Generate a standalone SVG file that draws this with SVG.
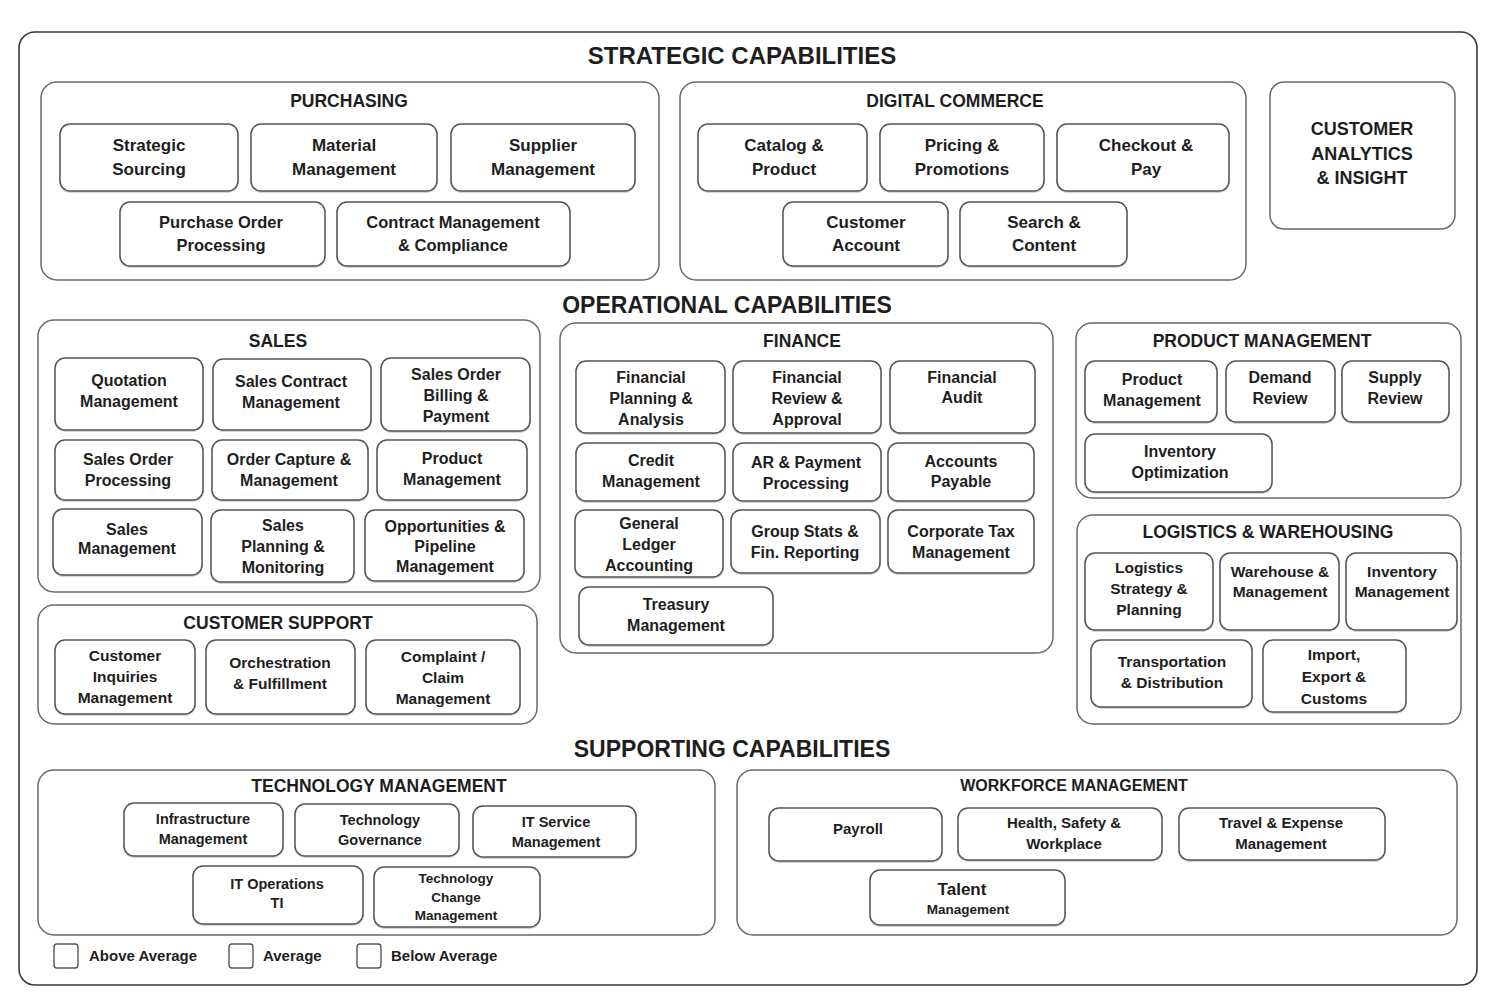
<svg xmlns="http://www.w3.org/2000/svg" width="1498" height="1008" viewBox="0 0 1498 1008">
<defs>
<filter id="sh" x="-5%" y="-5%" width="110%" height="120%"><feDropShadow dx="0" dy="1" stdDeviation="0.7" flood-color="#000" flood-opacity="0.22"/></filter>
</defs>
<style>
.frame{fill:#fff;stroke:#3a3a3a;stroke-width:1.6}
.sec{fill:#fff;stroke:#6a6a6a;stroke-width:1.5}
.node{fill:#fff;stroke:#555;stroke-width:1.5;filter:url(#sh)}
.leg{fill:#fff;stroke:#555;stroke-width:1.4}
text{font-family:"Liberation Sans",Arial,sans-serif;font-weight:bold;fill:#1e1e1e;text-anchor:middle}
.title{font-size:23px}
.title1{font-size:24px}
.h{font-size:17.5px}
.h16{font-size:16px}
.t17{font-size:17px}
.t165{font-size:16.5px}
.t16{font-size:16px}
.t155{font-size:15.5px}
.t15{font-size:15px}
.t145{font-size:14.5px}
.t135{font-size:13.5px}
.t18{font-size:18px}
.lt{font-size:15px;text-anchor:start}
</style>
<rect width="1498" height="1008" fill="#fff"/>
<rect class="frame" x="19" y="32" width="1458" height="953" rx="16"/>
<text class="title1" x="742" y="64">STRATEGIC CAPABILITIES</text>
<text class="title" x="727" y="313">OPERATIONAL CAPABILITIES</text>
<text class="title" x="732" y="757">SUPPORTING CAPABILITIES</text>

<!-- PURCHASING -->
<g id="purchasing">
<rect class="sec" x="41" y="82" width="618" height="198" rx="16"/>
<text class="h" x="349" y="107">PURCHASING</text>
</g>
<g id="strategic-sourcing"><rect class="node" x="60" y="124" width="178" height="67" rx="10"/><text class="t17" x="149" y="151">Strategic<tspan x="149" y="175">Sourcing</tspan></text></g>
<g id="material-management"><rect class="node" x="251" y="124" width="186" height="67" rx="10"/><text class="t17" x="344" y="151">Material<tspan x="344" y="175">Management</tspan></text></g>
<g id="supplier-management"><rect class="node" x="451" y="124" width="184" height="67" rx="10"/><text class="t17" x="543" y="151">Supplier<tspan x="543" y="175">Management</tspan></text></g>
<g id="purchase-order-processing"><rect class="node" x="120" y="202" width="205" height="64" rx="10"/><text class="t165" x="221" y="228">Purchase Order<tspan x="221" y="251">Processing</tspan></text></g>
<g id="contract-management"><rect class="node" x="337" y="202" width="233" height="64" rx="10"/><text class="t165" x="453" y="228">Contract Management<tspan x="453" y="251">&amp; Compliance</tspan></text></g>

<!-- DIGITAL COMMERCE -->
<g id="digital-commerce">
<rect class="sec" x="680" y="82" width="566" height="198" rx="16"/>
<text class="h" x="955" y="107">DIGITAL COMMERCE</text>
</g>
<g id="catalog-product"><rect class="node" x="698" y="124" width="169" height="67" rx="10"/><text class="t17" x="784" y="151">Catalog &amp;<tspan x="784" y="175">Product</tspan></text></g>
<g id="pricing-promotions"><rect class="node" x="880" y="124" width="164" height="67" rx="10"/><text class="t17" x="962" y="151">Pricing &amp;<tspan x="962" y="175">Promotions</tspan></text></g>
<g id="checkout-pay"><rect class="node" x="1057" y="124" width="172" height="67" rx="10"/><text class="t17" x="1146" y="151">Checkout &amp;<tspan x="1146" y="175">Pay</tspan></text></g>
<g id="customer-account"><rect class="node" x="783" y="202" width="165" height="64" rx="10"/><text class="t17" x="866" y="228">Customer<tspan x="866" y="251">Account</tspan></text></g>
<g id="search-content"><rect class="node" x="960" y="202" width="167" height="64" rx="10"/><text class="t17" x="1044" y="228">Search &amp;<tspan x="1044" y="251">Content</tspan></text></g>

<!-- CUSTOMER ANALYTICS -->
<g id="customer-analytics"><rect class="sec" x="1270" y="82" width="185" height="147" rx="14"/><text class="t18" x="1362" y="135">CUSTOMER<tspan x="1362" y="160">ANALYTICS</tspan><tspan x="1362" y="184">&amp; INSIGHT</tspan></text></g>

<!-- SALES -->
<g id="sales">
<rect class="sec" x="38" y="320" width="502" height="272" rx="16"/>
<text class="h" x="278" y="347">SALES</text>
</g>
<g id="quotation-management"><rect class="node" x="55" y="358" width="148" height="72" rx="10"/><text class="t16" x="129" y="386">Quotation<tspan x="129" y="407">Management</tspan></text></g>
<g id="sales-contract-management"><rect class="node" x="213" y="359" width="158" height="71" rx="10"/><text class="t16" x="291" y="387">Sales Contract<tspan x="291" y="408">Management</tspan></text></g>
<g id="sales-order-billing"><rect class="node" x="381" y="358" width="149" height="73" rx="10"/><text class="t16" x="456" y="380">Sales Order<tspan x="456" y="401">Billing &amp;</tspan><tspan x="456" y="422">Payment</tspan></text></g>
<g id="sales-order-processing"><rect class="node" x="55" y="440" width="148" height="60" rx="10"/><text class="t16" x="128" y="465">Sales Order<tspan x="128" y="486">Processing</tspan></text></g>
<g id="order-capture"><rect class="node" x="212" y="440" width="156" height="60" rx="10"/><text class="t16" x="289" y="465">Order Capture &amp;<tspan x="289" y="486">Management</tspan></text></g>
<g id="sales-product-management"><rect class="node" x="377" y="440" width="150" height="60" rx="10"/><text class="t16" x="452" y="464">Product<tspan x="452" y="485">Management</tspan></text></g>
<g id="sales-management"><rect class="node" x="53" y="509" width="149" height="66" rx="10"/><text class="t16" x="127" y="535">Sales<tspan x="127" y="554">Management</tspan></text></g>
<g id="sales-planning"><rect class="node" x="211" y="510" width="143" height="72" rx="10"/><text class="t16" x="283" y="531">Sales<tspan x="283" y="552">Planning &amp;</tspan><tspan x="283" y="573">Monitoring</tspan></text></g>
<g id="opportunities-pipeline"><rect class="node" x="365" y="510" width="159" height="71" rx="10"/><text class="t16" x="445" y="532">Opportunities &amp;<tspan x="445" y="552">Pipeline</tspan><tspan x="445" y="572">Management</tspan></text></g>

<!-- CUSTOMER SUPPORT -->
<g id="customer-support">
<rect class="sec" x="38" y="605" width="499" height="119" rx="16"/>
<text class="h" x="278" y="629">CUSTOMER SUPPORT</text>
</g>
<g id="customer-inquiries"><rect class="node" x="55" y="640" width="140" height="74" rx="10"/><text class="t155" x="125" y="661">Customer<tspan x="125" y="682">Inquiries</tspan><tspan x="125" y="703">Management</tspan></text></g>
<g id="orchestration-fulfillment"><rect class="node" x="206" y="640" width="149" height="74" rx="10"/><text class="t155" x="280" y="668">Orchestration<tspan x="280" y="689">&amp; Fulfillment</tspan></text></g>
<g id="complaint-claim"><rect class="node" x="366" y="640" width="154" height="74" rx="10"/><text class="t155" x="443" y="662">Complaint /<tspan x="443" y="683">Claim</tspan><tspan x="443" y="704">Management</tspan></text></g>

<!-- FINANCE -->
<g id="finance">
<rect class="sec" x="560" y="323" width="493" height="330" rx="16"/>
<text class="h" x="802" y="347">FINANCE</text>
</g>
<g id="financial-planning"><rect class="node" x="576" y="361" width="149" height="72" rx="10"/><text class="t16" x="651" y="383">Financial<tspan x="651" y="404">Planning &amp;</tspan><tspan x="651" y="425">Analysis</tspan></text></g>
<g id="financial-review"><rect class="node" x="733" y="361" width="148" height="72" rx="10"/><text class="t16" x="807" y="383">Financial<tspan x="807" y="404">Review &amp;</tspan><tspan x="807" y="425">Approval</tspan></text></g>
<g id="financial-audit"><rect class="node" x="890" y="361" width="145" height="72" rx="10"/><text class="t16" x="962" y="383">Financial<tspan x="962" y="403">Audit</tspan></text></g>
<g id="credit-management"><rect class="node" x="576" y="443" width="149" height="58" rx="10"/><text class="t16" x="651" y="466">Credit<tspan x="651" y="487">Management</tspan></text></g>
<g id="ar-payment"><rect class="node" x="733" y="443" width="148" height="58" rx="10"/><text class="t16" x="806" y="468">AR &amp; Payment<tspan x="806" y="489">Processing</tspan></text></g>
<g id="accounts-payable"><rect class="node" x="888" y="443" width="146" height="58" rx="10"/><text class="t16" x="961" y="467">Accounts<tspan x="961" y="487">Payable</tspan></text></g>
<g id="general-ledger"><rect class="node" x="575" y="510" width="148" height="67" rx="10"/><text class="t16" x="649" y="529">General<tspan x="649" y="550">Ledger</tspan><tspan x="649" y="571">Accounting</tspan></text></g>
<g id="group-stats"><rect class="node" x="731" y="510" width="149" height="63" rx="10"/><text class="t16" x="805" y="537">Group Stats &amp;<tspan x="805" y="558">Fin. Reporting</tspan></text></g>
<g id="corporate-tax"><rect class="node" x="888" y="510" width="146" height="63" rx="10"/><text class="t16" x="961" y="537">Corporate Tax<tspan x="961" y="558">Management</tspan></text></g>
<g id="treasury-management"><rect class="node" x="579" y="587" width="194" height="58" rx="10"/><text class="t16" x="676" y="610">Treasury<tspan x="676" y="631">Management</tspan></text></g>

<!-- PRODUCT MANAGEMENT -->
<g id="product-management-group">
<rect class="sec" x="1076" y="323" width="385" height="175" rx="16"/>
<text class="h" x="1262" y="347">PRODUCT MANAGEMENT</text>
</g>
<g id="product-management"><rect class="node" x="1085" y="361" width="132" height="61" rx="10"/><text class="t16" x="1152" y="385">Product<tspan x="1152" y="406">Management</tspan></text></g>
<g id="demand-review"><rect class="node" x="1226" y="361" width="109" height="61" rx="10"/><text class="t16" x="1280" y="383">Demand<tspan x="1280" y="404">Review</tspan></text></g>
<g id="supply-review"><rect class="node" x="1342" y="361" width="107" height="61" rx="10"/><text class="t16" x="1395" y="383">Supply<tspan x="1395" y="404">Review</tspan></text></g>
<g id="inventory-optimization"><rect class="node" x="1085" y="434" width="187" height="58" rx="10"/><text class="t16" x="1180" y="457">Inventory<tspan x="1180" y="478">Optimization</tspan></text></g>

<!-- LOGISTICS -->
<g id="logistics-warehousing">
<rect class="sec" x="1077" y="515" width="384" height="209" rx="16"/>
<text class="h" x="1268" y="538">LOGISTICS &amp; WAREHOUSING</text>
</g>
<g id="logistics-strategy"><rect class="node" x="1085" y="553" width="128" height="77" rx="10"/><text class="t155" x="1149" y="573">Logistics<tspan x="1149" y="594">Strategy &amp;</tspan><tspan x="1149" y="615">Planning</tspan></text></g>
<g id="warehouse-management"><rect class="node" x="1220" y="553" width="119" height="77" rx="10"/><text class="t155" x="1280" y="577">Warehouse &amp;<tspan x="1280" y="597">Management</tspan></text></g>
<g id="inventory-management"><rect class="node" x="1346" y="553" width="111" height="77" rx="10"/><text class="t155" x="1402" y="577">Inventory<tspan x="1402" y="597">Management</tspan></text></g>
<g id="transportation-distribution"><rect class="node" x="1091" y="640" width="161" height="67" rx="10"/><text class="t155" x="1172" y="667">Transportation<tspan x="1172" y="688">&amp; Distribution</tspan></text></g>
<g id="import-export"><rect class="node" x="1263" y="640" width="143" height="72" rx="10"/><text class="t155" x="1334" y="660">Import,<tspan x="1334" y="682">Export &amp;</tspan><tspan x="1334" y="704">Customs</tspan></text></g>

<!-- TECHNOLOGY MANAGEMENT -->
<g id="technology-management">
<rect class="sec" x="38" y="770" width="677" height="165" rx="16"/>
<text class="h" x="379" y="792">TECHNOLOGY MANAGEMENT</text>
</g>
<g id="infrastructure-management"><rect class="node" x="124" y="803" width="159" height="53" rx="10"/><text class="t145" x="203" y="824">Infrastructure<tspan x="203" y="844">Management</tspan></text></g>
<g id="technology-governance"><rect class="node" x="295" y="804" width="164" height="52" rx="10"/><text class="t145" x="380" y="825">Technology<tspan x="380" y="845">Governance</tspan></text></g>
<g id="it-service-management"><rect class="node" x="473" y="806" width="163" height="51" rx="10"/><text class="t145" x="556" y="827">IT Service<tspan x="556" y="847">Management</tspan></text></g>
<g id="it-operations"><rect class="node" x="193" y="866" width="170" height="58" rx="10"/><text class="t145" x="277" y="889">IT Operations<tspan x="277" y="908">TI</tspan></text></g>
<g id="technology-change"><rect class="node" x="374" y="867" width="166" height="60" rx="10"/><text class="t135" x="456" y="883">Technology<tspan x="456" y="902">Change</tspan><tspan x="456" y="920">Management</tspan></text></g>

<!-- WORKFORCE MANAGEMENT -->
<g id="workforce-management">
<rect class="sec" x="737" y="770" width="720" height="165" rx="16"/>
<text class="h16" x="1074" y="791">WORKFORCE MANAGEMENT</text>
</g>
<g id="payroll"><rect class="node" x="769" y="808" width="173" height="53" rx="10"/><text class="t15" x="858" y="834">Payroll</text></g>
<g id="health-safety"><rect class="node" x="958" y="808" width="204" height="52" rx="10"/><text class="t15" x="1064" y="828">Health, Safety &amp;<tspan x="1064" y="849">Workplace</tspan></text></g>
<g id="travel-expense"><rect class="node" x="1179" y="808" width="206" height="52" rx="10"/><text class="t15" x="1281" y="828">Travel &amp; Expense<tspan x="1281" y="849">Management</tspan></text></g>
<g id="talent-management"><rect class="node" x="870" y="870" width="195" height="55" rx="10"/><text class="t17" x="962" y="895">Talent<tspan class="t135" x="968" y="914">Management</tspan></text></g>

<!-- LEGEND -->
<g id="legend">
<rect class="leg" x="54" y="944" width="24" height="24" rx="3"/><text class="lt" x="89" y="961">Above Average</text>
<rect class="leg" x="229" y="944" width="24" height="24" rx="3"/><text class="lt" x="263" y="961">Average</text>
<rect class="leg" x="357" y="944" width="24" height="24" rx="3"/><text class="lt" x="391" y="961">Below Average</text>
</g>

<g id="connectors"></g>
</svg>
